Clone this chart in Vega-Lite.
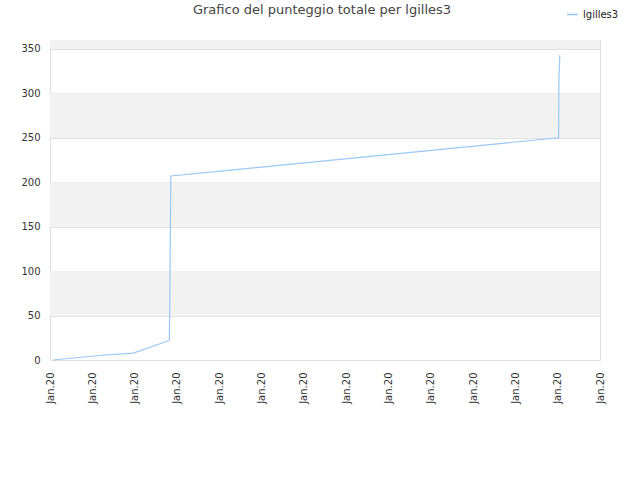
{
  "$schema": "https://vega.github.io/schema/vega-lite/v6.json",
  "autosize": "none",
  "width": 550,
  "height": 320,
  "padding": {"left": 50, "top": 40, "right": 40, "bottom": 120},
  "background": "white",
  "config": {
    "font": "DejaVu Sans",
    "view": {"stroke": "#dddddd", "strokeWidth": 1}
  },
  "title": {
    "text": "Grafico del punteggio totale per lgilles3",
    "fontSize": 13,
    "fontWeight": "normal",
    "color": "#444444",
    "offset": 22,
    "dy": 31,
    "dx": -3
  },
  "datasets": {
    "bands": [
      {"lo": 50, "hi": 100},
      {"lo": 150, "hi": 200},
      {"lo": 250, "hi": 300},
      {"lo": 350, "hi": 360}
    ],
    "scores": [
      {"t": 0.07, "punti": 0, "utente": "lgilles3"},
      {"t": 1.3, "punti": 5.6, "utente": "lgilles3"},
      {"t": 1.97, "punti": 7.7, "utente": "lgilles3"},
      {"t": 2.82, "punti": 22, "utente": "lgilles3"},
      {"t": 2.83, "punti": 57, "utente": "lgilles3"},
      {"t": 2.855, "punti": 207, "utente": "lgilles3"},
      {"t": 12.02, "punti": 250, "utente": "lgilles3"},
      {"t": 12.03, "punti": 319, "utente": "lgilles3"},
      {"t": 12.05, "punti": 343, "utente": "lgilles3"}
    ]
  },
  "layer": [
    {
      "data": {"name": "bands"},
      "mark": {"type": "rect", "color": "#f2f2f2"},
      "encoding": {
        "y": {"field": "lo", "type": "quantitative", "scale": {"domain": [0, 360]}},
        "y2": {"field": "hi"}
      }
    },
    {
      "data": {"name": "scores"},
      "mark": {"type": "line", "strokeWidth": 1.2, "interpolate": "linear"},
      "encoding": {
        "x": {
          "field": "t",
          "type": "quantitative",
          "scale": {"domain": [0, 13], "nice": false, "zero": false},
          "axis": {
            "title": null,
            "values": [0, 1, 2, 3, 4, 5, 6, 7, 8, 9, 10, 11, 12, 13],
            "labelExpr": "'Jan.20'",
            "labelAngle": -90,
            "labelFontSize": 10,
            "labelColor": "#333333",
            "ticks": false,
            "labelPadding": 12,
            "grid": false,
            "domain": false
          }
        },
        "y": {
          "field": "punti",
          "type": "quantitative",
          "scale": {"domain": [0, 360], "nice": false},
          "axis": {
            "title": null,
            "values": [0, 50, 100, 150, 200, 250, 300, 350],
            "labelFontSize": 10,
            "labelColor": "#333333",
            "ticks": false,
            "labelPadding": 10,
            "domain": false,
            "grid": true,
            "gridColor": "#e0e0e0"
          }
        },
        "color": {
          "field": "utente",
          "type": "nominal",
          "title": null,
          "scale": {"range": ["#99c7f5"]},
          "legend": {
            "orient": "none",
            "legendX": 516,
            "legendY": -32,
            "labelFontSize": 10,
            "labelColor": "#222222",
            "symbolSize": 120,
            "symbolStrokeWidth": 1.5
          }
        }
      }
    }
  ]
}
